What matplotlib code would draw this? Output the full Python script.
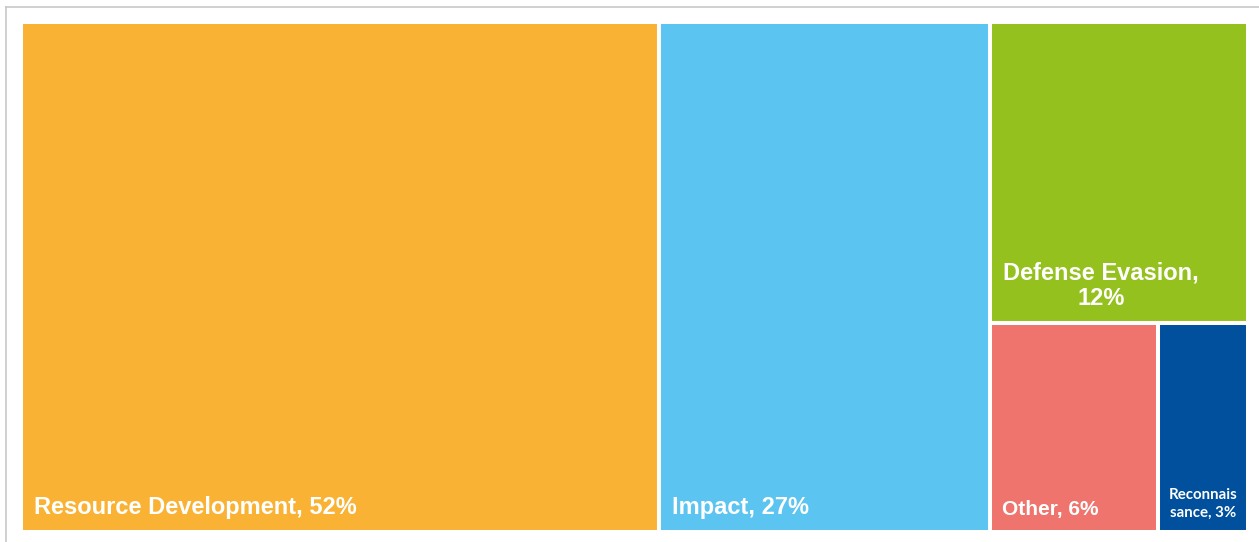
import matplotlib.pyplot as plt
from matplotlib.patches import Rectangle
from matplotlib.lines import Line2D

labels = ["Resource Development, 52%", "Impact, 27%", "Defense Evasion,\n12%",
          "Other, 6%", "Reconnais\nsance, 3%"]
values = [52.0, 27.0, 12.4, 5.6, 3.0]
colors = ["#F9B234", "#5BC4F1", "#95C11F", "#EE746D", "#00509E"]
font_sizes = [17, 17, 17, 15, 10.8]


def worst(row, w):
    s = sum(row)
    return max(max(w * w * r / (s * s), s * s / (w * w * r)) for r in row)


def layout_row(row, x, y, dx, dy):
    s = sum(row)
    rects = []
    if dx >= dy:
        # column on the left
        width = s / dy
        yy = y + dy
        for r in row:
            h = r / width
            rects.append((x, yy - h, width, h))
            yy -= h
        return rects, (x + width, y, dx - width, dy)
    else:
        # row on top
        height = s / dx
        xx = x
        for r in row:
            w = r / height
            rects.append((xx, y + dy - height, w, height))
            xx += w
        return rects, (x, y, dx, dy - height)


def squarify(sizes, x, y, dx, dy):
    rects = []
    sizes = list(sizes)
    while sizes:
        w = min(dx, dy)
        row = [sizes.pop(0)]
        while sizes and worst(row + [sizes[0]], w) <= worst(row, w):
            row.append(sizes.pop(0))
        r, (x, y, dx, dy) = layout_row(row, x, y, dx, dy)
        rects += r
    return rects


W, H = 1227.0, 510.0
total = sum(values)
areas = [v / total * W * H for v in values]
rects = squarify(areas, 0, 0, W, H)

fig = plt.figure(figsize=(12.59, 5.42), dpi=100)
fig.patch.set_facecolor("white")

# outer frame (only top and left visible)
fig.add_artist(Line2D([6 / 1259, 1], [1 - 7 / 542, 1 - 7 / 542], color="#C8C8C8", lw=1.2))
fig.add_artist(Line2D([6 / 1259, 6 / 1259], [0, 1 - 7 / 542], color="#C8C8C8", lw=1.2))

ax = fig.add_axes([21 / 1259, 10 / 542, W / 1259, H / 542])
ax.set_xlim(0, W)
ax.set_ylim(0, H)
ax.axis("off")

for (x, y, w, h), lab, c, fs in zip(rects, labels, colors, font_sizes):
    ax.add_patch(Rectangle((x, y), w, h, facecolor=c, edgecolor="white", lw=2.9))
    if fs < 12:
        ax.text(x + w / 2, y + 12, lab, ha="center", va="bottom", color="white",
                fontsize=fs, fontweight="bold", family=["Lato", "DejaVu Sans"],
                multialignment="center", linespacing=1.4)
    else:
        pad = 13 if fs > 16 else 12
        ax.text(x + pad, y + 13, lab, ha="left", va="bottom", color="white",
                fontsize=fs, fontweight="bold", family=["Liberation Sans", "DejaVu Sans"],
                multialignment="center", linespacing=1.15)

fig.savefig("out.png", dpi=100)
